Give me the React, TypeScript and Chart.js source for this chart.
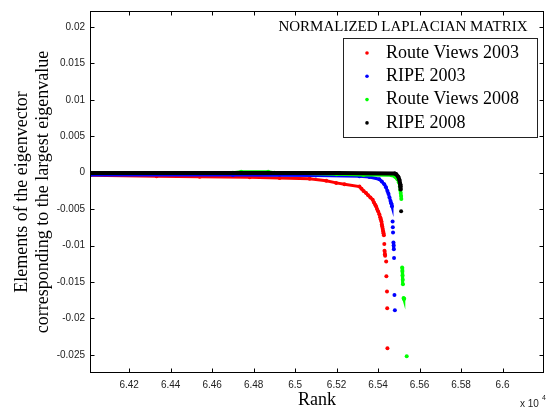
import React, { useEffect, useRef } from 'react';
import { Chart, registerables } from 'chart.js';

Chart.register(...registerables);

const xTickValues = [64200, 64400, 64600, 64800, 65000, 65200, 65400, 65600, 65800, 66000];
const xTickLabels = ['6.42', '6.44', '6.46', '6.48', '6.5', '6.52', '6.54', '6.56', '6.58', '6.6'];
const yTickValues = [0.02, 0.015, 0.01, 0.005, 0, -0.005, -0.01, -0.015, -0.02, -0.025];
const yTickLabels = ['0.02', '0.015', '0.01', '0.005', '0', '-0.005', '-0.01', '-0.015', '-0.02', '-0.025'];

const seriesNames = ['Route Views 2003', 'RIPE 2003', 'Route Views 2008', 'RIPE 2008'];
const seriesColors = ['#ff0000', '#0000ff', '#00ff00', '#000000'];

const routeViews2003Rank = [
  64011, 64332, 64540, 64781, 64925, 65070, 65150, 65198, 65238, 65310, 65320, 65330, 65342, 65352,
  65363, 65374, 65380, 65386, 65390, 65395, 65400, 65406, 65410, 65413, 65416, 65418, 65420, 65422,
  65424, 65426, 65428, 65430, 65431, 65433, 65434, 65439, 65440, 65443, 65444, 65445,
];
const routeViews2003Value = [
  -0.00035, -0.00049, -0.00056, -0.00063, -0.00072, -0.00083, -0.0011, -0.0014, -0.0016, -0.0019,
  -0.0022, -0.0025, -0.0028, -0.0031, -0.0034, -0.0037, -0.0041, -0.0044, -0.0046, -0.005, -0.0053,
  -0.0057, -0.0061, -0.0064, -0.0067, -0.0071, -0.0074, -0.0077, -0.008, -0.0083, -0.0086, -0.0098,
  -0.0107, -0.0112, -0.0114, -0.0122, -0.0142, -0.0163, -0.0186, -0.0241,
];

const ripe2003Rank = [
  64011, 64700, 65100, 65310, 65358, 65406, 65418, 65430, 65438, 65445, 65450, 65455, 65460, 65463,
  65467, 65470, 65471, 65472, 65474, 65475, 65476, 65477, 65479, 65481,
];
const ripe2003Value = [
  -0.0003, -0.00033, -0.00038, -0.00048, -0.0006, -0.0009, -0.0012, -0.0016, -0.002, -0.0025, -0.0029,
  -0.0034, -0.0039, -0.0042, -0.0046, -0.0067, -0.0075, -0.0082, -0.0096, -0.01, -0.0105, -0.0117,
  -0.0168, -0.0189,
];

const routeViews2008Rank = [
  64011, 64700, 64740, 64870, 64900, 65200, 65330, 65464, 65483, 65493, 65500, 65505, 65507, 65509,
  65511, 65512, 65516, 65517, 65518, 65519, 65520, 65523, 65524, 65526, 65538,
];
const routeViews2008Value = [
  0.0, 0.0, 0.00012, 0.00012, 0.0, -0.0002, -0.0003, -0.00035, -0.0006, -0.0009, -0.0013, -0.0019,
  -0.0024, -0.0028, -0.0032, -0.0036, -0.013, -0.0135, -0.0141, -0.0147, -0.0153, -0.0172, -0.0173,
  -0.0173, -0.0252,
];

const ripe2008Rank = [64011, 65200, 65480, 65487, 65498, 65503, 65507, 65508, 65509, 65511];
const ripe2008Value = [-0.00005, -0.00005, -0.0001, -0.0002, -0.0006, -0.001, -0.0016, -0.0019, -0.0023, -0.0053];

const seriesRanks = [routeViews2003Rank, ripe2003Rank, routeViews2008Rank, ripe2008Rank];
const seriesValues = [routeViews2003Value, ripe2003Value, routeViews2008Value, ripe2008Value];
const lineWidths = [3, 3, 3, 4];

const SERIF = '"Liberation Serif", "Times New Roman", serif';
const SANS = '"Liberation Sans", Arial, sans-serif';

const framePlugin = {
  id: 'matlabFrame',
  afterDraw(chart: any) {
    const { ctx, chartArea } = chart;
    const { left, right, top, bottom } = chartArea;
    const xs = chart.scales.x;
    const ys = chart.scales.y;
    ctx.save();
    ctx.strokeStyle = '#000';
    ctx.lineWidth = 1;
    ctx.strokeRect(left + 0.5, top + 0.5, right - left - 1, bottom - top - 1);
    const tl = 4.5;
    ctx.beginPath();
    xTickValues.forEach((v) => {
      const px = Math.round(xs.getPixelForValue(v)) + 0.5;
      ctx.moveTo(px, bottom);
      ctx.lineTo(px, bottom - tl);
      ctx.moveTo(px, top);
      ctx.lineTo(px, top + tl);
    });
    yTickValues.forEach((v) => {
      const py = Math.round(ys.getPixelForValue(v)) + 0.5;
      ctx.moveTo(left, py);
      ctx.lineTo(left + tl, py);
      ctx.moveTo(right, py);
      ctx.lineTo(right - tl, py);
    });
    ctx.stroke();

    // title inside plot
    ctx.fillStyle = '#000';
    ctx.font = '15px ' + SERIF;
    ctx.textAlign = 'center';
    ctx.textBaseline = 'middle';
    ctx.fillText('NORMALIZED LAPLACIAN MATRIX', 403, 27);

    // legend
    const lx = 343.5, ly = 38.5, lw = 194, lh = 99;
    ctx.fillStyle = '#fff';
    ctx.fillRect(lx, ly, lw, lh);
    ctx.strokeStyle = '#222';
    ctx.strokeRect(lx, ly, lw, lh);
    ctx.font = '18px ' + SERIF;
    ctx.textAlign = 'left';
    seriesNames.forEach((name, i) => {
      const cy = 53 + i * 23.3;
      ctx.fillStyle = seriesColors[i];
      ctx.beginPath();
      ctx.arc(367, cy, 1.8, 0, Math.PI * 2);
      ctx.fill();
      ctx.fillStyle = '#000';
      ctx.fillText(name, 386, cy);
    });

    // exponent
    ctx.fillStyle = '#222';
    ctx.font = '10px ' + SANS;
    ctx.fillText('x 10', 520, 404);
    ctx.font = '7px ' + SANS;
    ctx.fillText('4', 542, 398);
    ctx.restore();
  },
};

export default function App() {
  const ref = useRef<HTMLCanvasElement | null>(null);

  useEffect(() => {
    document.body.style.margin = '0';
    if (!ref.current) return;
    const orders = [4, 3, 2, 1];
    const datasets = seriesNames.map((name, i) => ({
      label: name,
      data: seriesRanks[i].map((r, j) => ({ x: r, y: seriesValues[i][j] })),
      borderColor: seriesColors[i],
      backgroundColor: seriesColors[i],
      borderWidth: lineWidths[i],
      pointRadius: 2,
      pointBorderWidth: 0,
      pointHoverRadius: 2,
      showLine: true,
      order: orders[i],
      segment: {
        borderColor: (c: any) =>
          Math.abs(c.p1.parsed.y - c.p0.parsed.y) > 0.00065 ? 'rgba(0,0,0,0)' : undefined,
      },
    }));

    const chart = new Chart(ref.current, {
      type: 'scatter',
      data: { datasets },
      options: {
        responsive: false,
        animation: false,
        layout: { padding: { top: 10, right: 9, left: 0, bottom: 0 } },
        plugins: {
          legend: { display: false },
          tooltip: { enabled: false },
        },
        scales: {
          x: {
            type: 'linear',
            min: 64011,
            max: 66200,
            grid: { display: false, drawTicks: false },
            border: { display: false },
            afterBuildTicks: (scale: any) => {
              scale.ticks = xTickValues.map((v) => ({ value: v }));
            },
            afterFit: (scale: any) => {
              scale.height = 39;
            },
            ticks: {
              autoSkip: false,
              maxRotation: 0,
              padding: 6,
              color: '#222',
              font: { family: SANS, size: 10 },
              callback: (v: any) => {
                const i = xTickValues.indexOf(Number(v));
                return i >= 0 ? xTickLabels[i] : '';
              },
            },
            title: {
              display: true,
              text: 'Rank',
              color: '#000',
              font: { family: SERIF, size: 18 },
              padding: { top: 0, bottom: 1 },
            },
          },
          y: {
            type: 'linear',
            min: -0.0275,
            max: 0.0222,
            grid: { display: false, drawTicks: false },
            border: { display: false },
            afterBuildTicks: (scale: any) => {
              scale.ticks = yTickValues.map((v) => ({ value: v }));
            },
            afterFit: (scale: any) => {
              scale.width = 90;
            },
            ticks: {
              autoSkip: false,
              padding: 5,
              color: '#222',
              font: { family: SANS, size: 10 },
              callback: (v: any) => {
                const i = yTickValues.findIndex((t) => Math.abs(t - Number(v)) < 1e-9);
                return i >= 0 ? yTickLabels[i] : '';
              },
            },
            title: {
              display: true,
              text: ['Elements of the eigenvector', 'corresponding to the largest eigenvalue'],
              color: '#000',
              font: { family: SERIF, size: 18 },
              padding: { top: 11, bottom: 0 },
            },
          },
        },
      },
      plugins: [framePlugin],
    });
    return () => chart.destroy();
  }, []);

  return <canvas ref={ref} width={553} height={412} style={{ display: 'block' }} />;
}
